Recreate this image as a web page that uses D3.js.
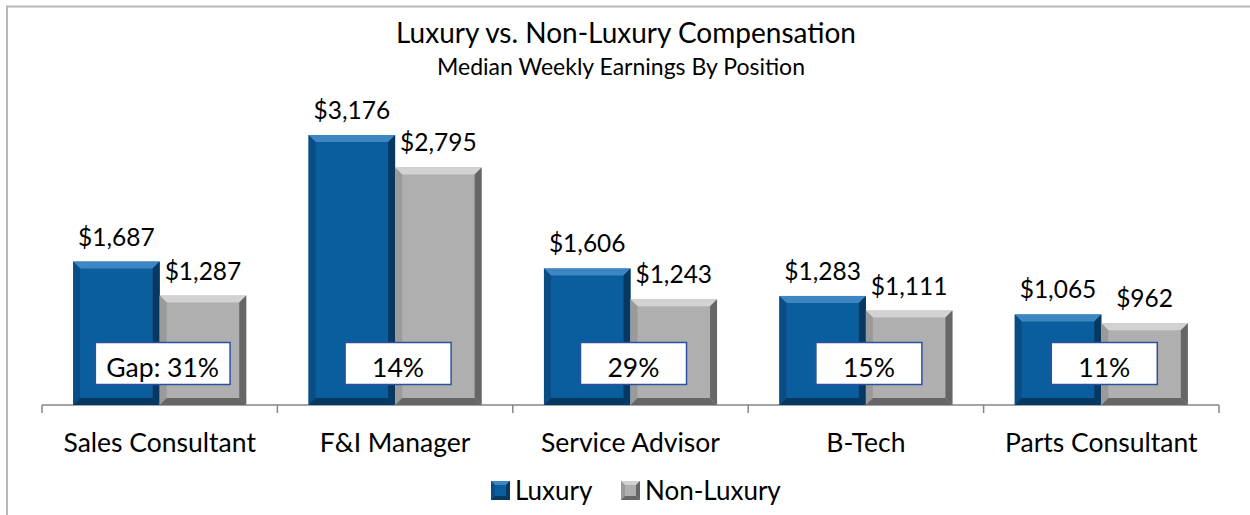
<!DOCTYPE html>
<html>
<head>
<meta charset="utf-8">
<script src="https://cdn.jsdelivr.net/npm/d3@7"></script>
<style>
  body { margin: 0; background: #fff; }
  svg { display: block; font-family: Lato, "Noto Sans", sans-serif; }
</style>
</head>
<body>
<svg></svg>
<script>
const width = 1250;
const height = 515;

const categories = ["Sales Consultant", "F&I Manager", "Service Advisor", "B-Tech", "Parts Consultant"];
const seriesNames = ["Luxury", "Non-Luxury"];
const luxury = [1687, 3176, 1606, 1283, 1065];
const nonLuxury = [1287, 2795, 1243, 1111, 962];
const gapLabels = ["Gap: 31%", "14%", "29%", "15%", "11%"];

const colors = {
    "Luxury": { face: "#0b5e9e", light: "#3d86c2", side: "#0a4d85", dark: "#073861" },
    "Non-Luxury": { face: "#afafaf", light: "#d2d2d2", side: "#9a9a9a", dark: "#666666" }
};

let svg = d3.select("svg").attr("width", width).attr("height", height);

// outer frame (only top and left visible)
svg.append("line").attr("x1", 6).attr("x2", width).attr("y1", 6.5).attr("y2", 6.5)
    .attr("stroke", "#b5bab5").attr("stroke-width", 2);
svg.append("line").attr("x1", 7).attr("x2", 7).attr("y1", 6).attr("y2", height)
    .attr("stroke", "#b5bab5").attr("stroke-width", 2);

// titles
svg.append("text").attr("x", 626).attr("y", 43).attr("text-anchor", "middle")
    .style("font-size", "28px").text("Luxury vs. Non-Luxury Compensation");
svg.append("text").attr("x", 621).attr("y", 75).attr("text-anchor", "middle")
    .style("font-size", "23px").text("Median Weekly Earnings By Position");

const scX = d3.scaleBand().domain(categories).range([42, 1219]).padding(0);
const scS = d3.scaleBand().domain(seriesNames).range([0, scX.bandwidth()])
    .paddingInner(0).paddingOuter(0.36);
const scY = d3.scaleLinear().domain([0, 3500]).range([405, 107.5]);

// axis
const axisG = svg.append("g").attr("transform", "translate(0,405)");
axisG.append("line").attr("x1", scX.range()[0]).attr("x2", scX.range()[1])
    .attr("stroke", "#868686").attr("stroke-width", 1.5);
const bounds = categories.map(c => scX(c)).concat([scX.range()[1]]);
axisG.selectAll(".tick").data(bounds).enter().append("line")
    .attr("x1", d => d).attr("x2", d => d).attr("y1", 0).attr("y2", 8)
    .attr("stroke", "#868686").attr("stroke-width", 1.5);
axisG.selectAll(".cat").data(categories).enter().append("text")
    .attr("x", d => scX(d) + scX.bandwidth() / 2).attr("y", 47)
    .attr("text-anchor", "middle").style("font-size", "26.5px").text(d => d);

// bevelled rectangle
function bevelRect(g, x, y, w, h, c, b) {
    b = Math.min(b, w / 2, h / 2);
    g.append("rect").attr("x", x).attr("y", y).attr("width", w).attr("height", h).attr("fill", c.face);
    const poly = (pts, fill) => g.append("polygon")
        .attr("points", pts.map(p => p.join(",")).join(" ")).attr("fill", fill);
    poly([[x, y], [x + w, y], [x + w - b, y + b], [x + b, y + b]], c.light);
    poly([[x, y], [x + b, y + b], [x + b, y + h - b], [x, y + h]], c.side);
    poly([[x + w, y], [x + w, y + h], [x + w - b, y + h - b], [x + w - b, y + b]], c.dark);
    poly([[x, y + h], [x + b, y + h - b], [x + w - b, y + h - b], [x + w, y + h]], c.dark);
}

const rows = categories.map((c, i) => ({ cat: c, values: [luxury[i], nonLuxury[i]], gap: gapLabels[i] }));

rows.forEach(r => {
    const g = svg.append("g");
    seriesNames.forEach((s, j) => {
        const x = scX(r.cat) + scS(s);
        const y = scY(r.values[j]);
        bevelRect(g, x, y, scS.bandwidth(), scY(0) - y, colors[s], 7);
        g.append("text").attr("x", x + scS.bandwidth() / 2).attr("y", y - 16)
            .attr("text-anchor", "middle").style("font-size", "24.5px")
            .text(d3.format("$,")(r.values[j]));
    });
    // gap box
    const cx = scX(r.cat) + scX.bandwidth() / 2 + 3;
    const t = g.append("text").attr("x", cx).attr("y", 377).attr("text-anchor", "middle")
        .style("font-size", "26.5px").text(r.gap);
    const tw = t.node().getComputedTextLength();
    const bw = Math.max(106, tw + 22);
    g.append("rect").attr("x", cx - bw / 2).attr("y", 342.5)
        .attr("width", bw).attr("height", 42).attr("fill", "#fff")
        .attr("stroke", "#2e4f9e").attr("stroke-width", 1.5);
    t.raise();
});

// legend
const legend = svg.append("g");
const legendX = [491, 621];
seriesNames.forEach((s, i) => {
    bevelRect(legend, legendX[i], 481, 19, 19, colors[s], 4);
    legend.append("text").attr("x", legendX[i] + 24).attr("y", 500)
        .style("font-size", "26px").text(s);
});
</script>
</body>
</html>
